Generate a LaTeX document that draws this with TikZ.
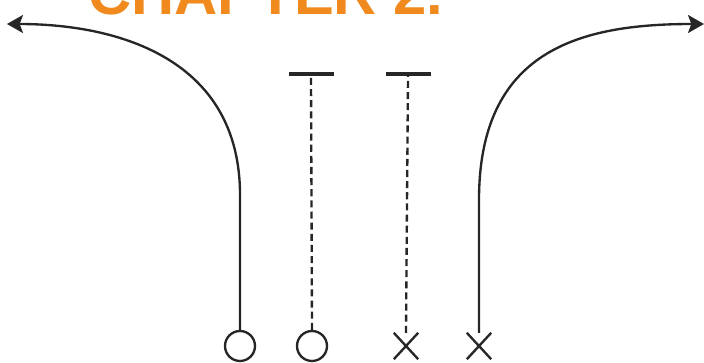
\documentclass[tikz,border=0pt]{standalone}
\usepackage{fontspec}
\setmainfont{Liberation Sans}
\newfontfamily\headfont{Liberation Sans}[BoldFont={Liberation Sans Bold}]
\usetikzlibrary{arrows.meta,shapes.misc}
\definecolor{chaporange}{RGB}{240,138,30}

\begin{document}
\begin{tikzpicture}[x=0.03cm,y=-0.03cm,>={Stealth[length=0.48cm,width=0.54cm,inset=0.1cm]},
		route/.style={line width=2pt,black!85},
		fake/.style={route,dash pattern=on 6pt off 3.5pt},
		ring/.style={circle,draw,line width=2pt,black!85,inner sep=0pt,minimum size=0.9cm},
		cross/.style={cross out,draw,line width=2pt,black!85,inner sep=0pt,minimum width=0.66cm,minimum height=0.72cm},
		tbar/.style={fill=black!85,inner sep=0pt,minimum width=1.35cm,minimum height=0.12cm}]
		% frame
		\useasboundingbox (0,0) rectangle (704,362);
		\clip (0,0) rectangle (704,362);
		% cut-off heading
		\node[anchor=base west,inner sep=0pt,text=chaporange,font=\headfont\bfseries\fontsize{51}{51}\selectfont] (head) at (88,14) {CHAPTER 2.};
		% players on the line
		\node[ring]  (o1) at (240,346) {};
		\node[ring]  (o2) at (312,346) {};
		\node[cross] (x1) at (406,346) {};
		\node[cross] (x2) at (479,346) {};
		% blocks
		\node[tbar] (t1) at (311,74) {};
		\node[tbar] (t2) at (408,74) {};
		% route ends
		\coordinate (lend) at (7,24);
		\coordinate (rend) at (704,24);
		% outside routes
		\draw[route,->] (o1.north) -- (240,195) .. controls (240,60) and (120,24) .. (lend);
		\draw[route,->] (x2.north) -- (479,200) .. controls (479,50) and (580,24) .. (rend);
		% blocking paths
		\draw[fake] (o2.north) -- (t1.south);
		\draw[fake] (x1.north) -- (t2.south);
	\end{tikzpicture}
\end{document}
